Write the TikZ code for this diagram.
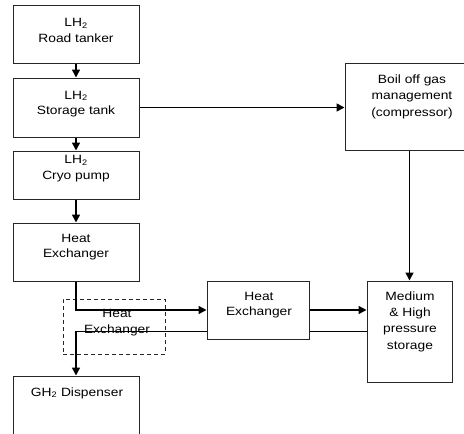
\documentclass[tikz,border=0pt]{standalone}
\usepackage{fontspec}
\setmainfont{Liberation Sans}[FakeStretch=1.15]
\usetikzlibrary{arrows.meta,calc}
\begin{document}
\begin{tikzpicture}[x=1pt,y=-1pt,
  box/.style={draw=black!85,line width=1pt,fill=white,inner sep=0pt},
  txt/.style={align=center,inner sep=0pt,font=\fontsize{12}{15.5}\selectfont},
  arr/.style={line width=1.5pt,-{Triangle[length=8pt,width=8pt]}},
  ln/.style={line width=1.5pt}]
\useasboundingbox (0,0) rectangle (464,434);
\clip (0,0) rectangle (464,434);
% boxes
\node[box,minimum width=126pt,minimum height=58pt] (rt) at (76,34) {};
\node[txt] (rtT) at (76,30.5) {LH\textsubscript{2}\\Road tanker};
\node[box,minimum width=126pt,minimum height=59pt] (st) at (76,107.5) {};
\node[txt] (stT) at (76,104) {LH\textsubscript{2}\\Storage tank};
\node[box,minimum width=126pt,minimum height=48pt] (cp) at (76,175) {};
\node[txt] (cpT) at (76,168.5) {LH\textsubscript{2}\\Cryo pump};
\node[box,minimum width=126pt,minimum height=58pt] (he1) at (76,252) {};
\node[txt] (he1T) at (76,247) {Heat\\Exchanger};
\node[box,minimum width=102pt,minimum height=58pt] (he2) at (258,310) {};
\node[txt] (he2T) at (259,305) {Heat\\Exchanger};
\node[box,minimum width=85pt,minimum height=101pt] (ms) at (409.5,331.5) {};
\node[txt,font=\fontsize{12}{16.3}\selectfont] (msT) at (410,321.5) {Medium\\\& High\\pressure\\storage};
\node[box,minimum width=130pt,minimum height=87pt] (bo) at (410,106.5) {};
\node[txt,font=\fontsize{12}{16.5}\selectfont] (boT) at (412,96.5) {Boil off gas\\management\\(compressor)};
\node[box,minimum width=126pt,minimum height=80pt] (gh) at (76,416) {};
\node[txt] (ghT) at (77,393) {GH\textsubscript{2} Dispenser};
% dashed box
\node[draw=black!85,line width=1pt,dashed,dash pattern=on 4pt off 3pt,minimum width=102pt,minimum height=55pt,inner sep=0pt] (hed) at (114,326.5) {};
\node[txt] (hedT) at (117,322.5) {Heat\\Exchanger};
% connectors
\draw[arr] (rt.south) -- (st.north);
\draw[arr] (st.south) -- (cp.north);
\draw[arr] (cp.south) -- (he1.north);
\draw[arr] (st.east) -- (st.east -| bo.west);
\draw[arr] (bo.south -| ms.north) -- (ms.north);
\draw[arr] (he1.south) |- (he2.west);
\draw[arr] (he2.east) -- (he2.east -| ms.west);
\coordinate (r1) at ($(he2.south east)+(0,-8)$);
\coordinate (r2) at ($(he2.south west)+(0,-8)$);
\draw[ln] (r1 -| ms.west) -- (r1);
\draw[arr] (r2) -| (gh.north);
\end{tikzpicture}
\end{document}
